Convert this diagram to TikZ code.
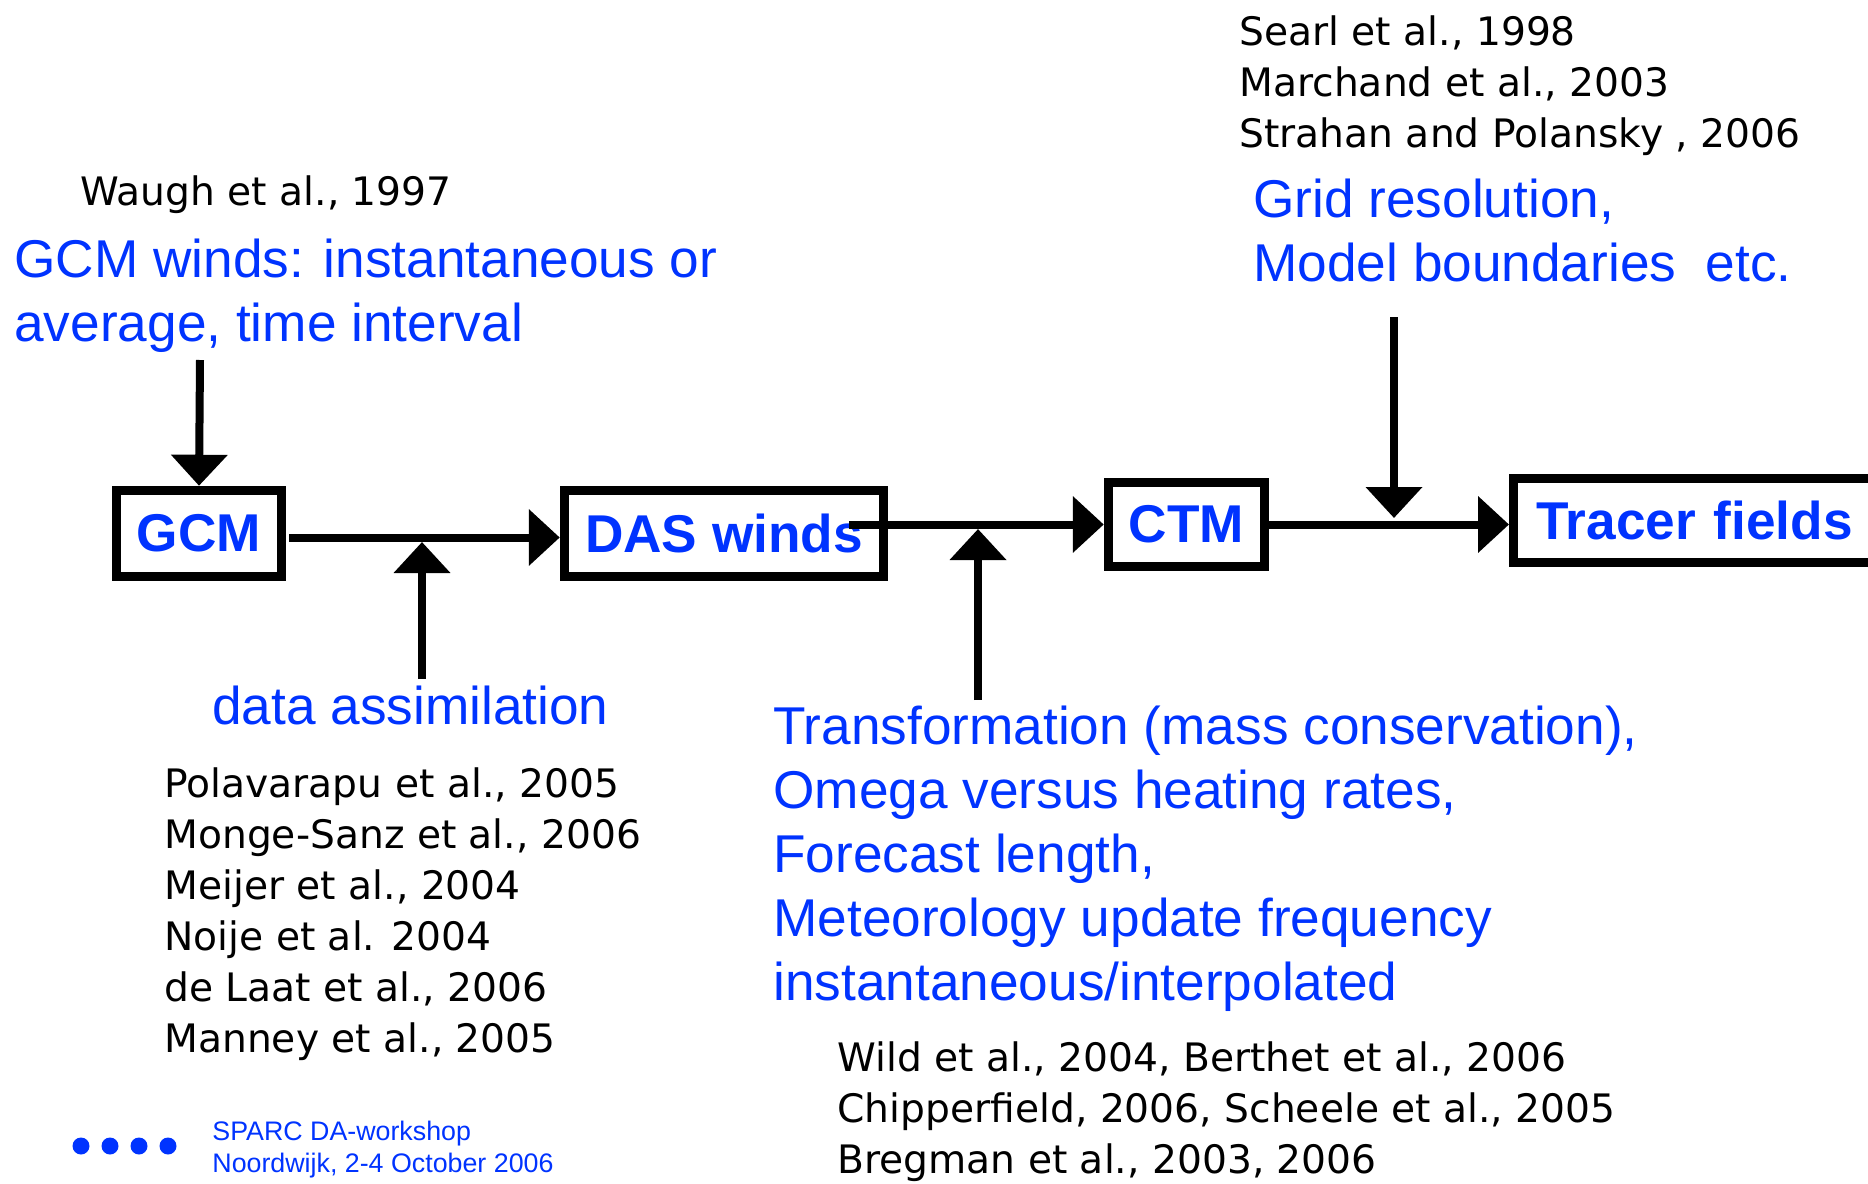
\documentclass[tikz,border=0pt]{standalone}
\usepackage{fontspec}
\setmainfont{Liberation Sans}
\newfontfamily\handfont{DejaVu Sans}
\usetikzlibrary{arrows.meta}
\definecolor{slideblue}{RGB}{0,51,255}

\begin{document}
\begin{tikzpicture}[x=0.5pt, y=-0.5pt,
  flow/.style={line width=4pt, -{Triangle[length=15.5pt, width=27.5pt]}},
  stage/.style={draw, line width=4.5pt, inner sep=0pt, text=slideblue, font=\fontsize{26.6}{32}\selectfont\bfseries},
  note/.style={anchor=base west, inner sep=0pt, align=left, text=slideblue, font=\fontsize{26.6}{32}\selectfont},
  refs/.style={anchor=base west, inner sep=0pt, align=left, font=\handfont\fontsize{19.6}{25.5}\selectfont}]
  \useasboundingbox (0,0) rectangle (1868,1183);

  % the chain of boxes
  \node[stage, minimum width=82.75pt, minimum height=43.25pt] (gcm) at (199,533.5) {GCM};
  \node[stage, minimum width=159.75pt, minimum height=43.25pt] (das) at (724,533.5) {DAS winds};
  \node[stage, minimum width=78.25pt, minimum height=42.25pt] (ctm) at (1186.5,524.5) {CTM};
  \node[stage, anchor=west, minimum height=42.25pt, text width=165.5pt, inner xsep=11.4pt, align=left] (tracer) at (1509,520.5) {Tracer fields};

  % texts (multi-line ones sit on their last baseline)
  \node[refs] (waugh) at (80,205) {Waugh et al., 1997};
  \node[note] (gcmnote) at (14,341) {GCM winds: instantaneous or\\average, time interval};
  \node[refs] (searl) at (1239,147) {Searl et al., 1998\\Marchand et al., 2003\\Strahan and Polansky , 2006};
  \node[note] (gridnote) at (1253,281) {Grid resolution,\\Model boundaries\ \ etc.};
  \node[note] (danote) at (212,724) {data assimilation};
  \node[refs] (darefs) at (164,1052) {Polavarapu et al., 2005\\Monge-Sanz et al., 2006\\Meijer et al., 2004\\Noije et al. 2004\\de Laat et al., 2006\\Manney et al., 2005};
  \node[note] (trnote) at (773,1000) {Transformation (mass conservation),\\Omega versus heating rates,\\Forecast length,\\Meteorology update frequency\\instantaneous/interpolated};
  \node[refs] (trrefs) at (837,1173) {Wild et al., 2004, Berthet et al., 2006\\Chipperfield, 2006, Scheele et al., 2005\\Bregman et al., 2003, 2006};

  % arrows
  \coordinate (gcmin) at (200,360);
  \coordinate (dain) at (422,679);
  \coordinate (dajoin) at (422,542);
  \coordinate (trin) at (978,700);
  \coordinate (trjoin) at (978,529);
  \coordinate (gridin) at (1394,317);
  \coordinate (gridjoin) at (1394,518);
  \coordinate (dasout) at ([xshift=-19.5pt]das.east);

  \draw[flow] (gcmin) -- (gcm.north);
  \draw[flow] ([xshift=1.5pt, yshift=-2pt]gcm.east) -- ([yshift=-2pt]das.west);
  \draw[flow] (dasout |- ctm.west) -- (ctm.west);
  \draw[flow] (ctm.east) -- (ctm.east -| tracer.west);
  \draw[flow] (dain) -- (dajoin);
  \draw[flow] (trin) -- (trjoin);
  \draw[flow] (gridin) -- (gridjoin);

  % footer
  \foreach \i in {0,...,3}
    \fill[slideblue] (81+29*\i,1146) circle (4.25pt);
  \node[anchor=base west, inner sep=0pt, align=left, text=slideblue, font=\fontsize{13.4}{16}\selectfont] (footer) at (212,1172) {SPARC DA-workshop\\Noordwijk, 2-4 October 2006};
\end{tikzpicture}
\end{document}
